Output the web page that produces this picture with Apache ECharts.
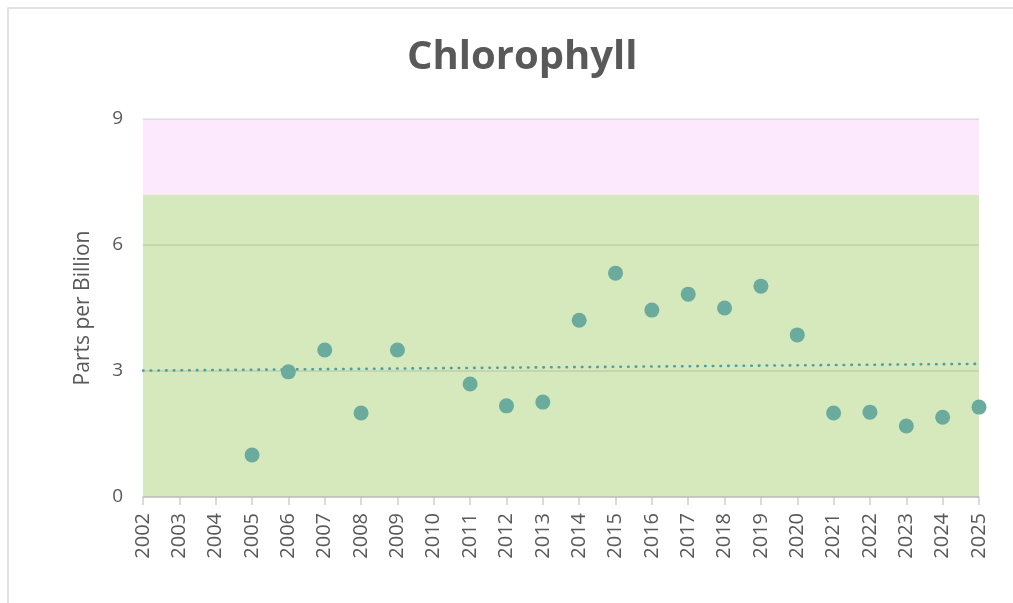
<!DOCTYPE html>
<html>
<head>
<meta charset="utf-8">
<script src="https://cdn.jsdelivr.net/npm/echarts@6/dist/echarts.min.js"></script>
<style>
  html, body { margin: 0; padding: 0; background: #fff; }
  #chart { width: 1013px; height: 603px; }
</style>
</head>
<body>
<div id="chart"></div>
<script>
// data
var years = ['2002', '2003', '2004', '2005', '2006', '2007', '2008', '2009', '2010', '2011', '2012', '2013',
  '2014', '2015', '2016', '2017', '2018', '2019', '2020', '2021', '2022', '2023', '2024', '2025']
var chlorophyll = [null, null, null, 1.0, 2.98, 3.5, 2.0, 3.5, null, 2.69, 2.17, 2.26,
  4.21, 5.33, 4.45, 4.83, 4.5, 5.02, 3.86, 2.0, 2.02, 1.69, 1.9, 2.14]
// linear trend end points (2002, 2025)
var trendYears = ['2002', '2025']
var trendValues = [3.01, 3.17]
// background bands
var goodBand = [0, 7.2]
var highBand = [7.2, 9]
var yTicks = { min: 0, max: 9, interval: 3 }

var textColor = '#595959'
var chart = echarts.init(document.getElementById('chart'))

var option = {
  animation: false,
  textStyle: { fontFamily: 'Open Sans' },
  title: {
    text: 'Chlorophyll',
    left: 402,
    top: 33,
    textStyle: { fontFamily: 'Open Sans', fontSize: 40, fontWeight: 'bold', color: textColor }
  },
  graphic: [{
    type: 'rect',
    shape: { x: 8, y: 8, width: 1100, height: 700 },
    style: { fill: 'none', stroke: '#d9d9d9', lineWidth: 1.5 },
    silent: true
  }],
  grid: { left: 143, right: 34, top: 119, bottom: 106 },
  xAxis: {
    type: 'category',
    data: years,
    boundaryGap: false,
    axisLine: { lineStyle: { color: '#d0d0d0', width: 1.5 } },
    axisTick: { show: true, length: 8, lineStyle: { color: '#d0d0d0', width: 1.5 } },
    axisLabel: { rotate: 90, color: textColor, fontSize: 20, margin: 16, interval: 0 },
    splitLine: { show: false }
  },
  yAxis: {
    type: 'value',
    min: yTicks.min,
    max: yTicks.max,
    interval: yTicks.interval,
    z: 2,
    name: 'Parts per Billion',
    nameLocation: 'middle',
    nameGap: 49,
    nameTextStyle: { color: textColor, fontSize: 21 },
    axisLine: { show: false },
    axisTick: { show: false },
    axisLabel: { color: textColor, fontSize: 19, margin: 20 },
    splitLine: { lineStyle: { color: 'rgba(0,0,0,0.08)', width: 2 } }
  },
  series: [
    {
      type: 'line',
      data: [],
      z: 0,
      silent: true,
      markArea: {
        silent: true,
        z: 0,
        data: [
          [{ yAxis: goodBand[0], itemStyle: { color: '#d5e9bc' } }, { yAxis: goodBand[1] }],
          [{ yAxis: highBand[0], itemStyle: { color: '#fce9fd' } }, { yAxis: highBand[1] }]
        ]
      }
    },
    {
      type: 'line',
      data: trendYears.map(function (y, i) { return [y, trendValues[i]] }),
      z: 3,
      symbol: 'none',
      lineStyle: { color: '#4f9fa2', width: 2.6, type: [0.5, 7.2], cap: 'round' }
    },
    {
      type: 'scatter',
      data: chlorophyll,
      z: 4,
      symbolSize: 15,
      itemStyle: { color: '#6aab9d', opacity: 1 }
    }
  ]
}

chart.setOption(option)
</script>
</body>
</html>
